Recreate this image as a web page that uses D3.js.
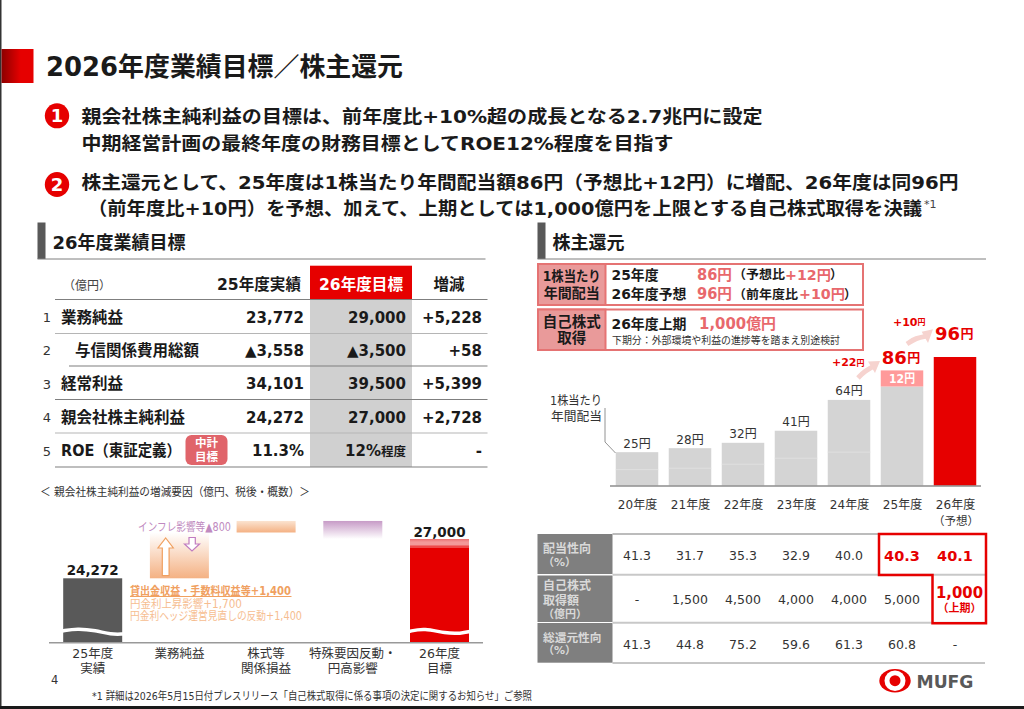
<!DOCTYPE html>
<html>
<head>
<meta charset="utf-8">
<script src="https://cdn.jsdelivr.net/npm/d3@7"></script>
<style>
html, body { margin: 0; padding: 0; background: #fff; }
svg { display: block; }
text { font-family: "DejaVu Sans", "Noto Sans CJK JP", sans-serif; }
</style>
</head>
<body>
<svg id="chart" width="1024" height="709"></svg>
<script>
// dividend bars
const dpsYears = ['20年度', '21年度', '22年度', '23年度', '24年度', '25年度', '26年度']
const dpsValues = [25, 28, 32, 41, 64, 74, 96]
const dpsLower = [12, 13, 16, 20.5, 25, 0, 0]
const dpsExtra = [0, 0, 0, 0, 0, 12, 0]

// shareholder return table
const payoutRatio = ['41.3', '31.7', '35.3', '32.9', '40.0', '40.3', '40.1']
const buybackAmount = ['-', '1,500', '4,500', '4,000', '4,000', '5,000', '1,000']
const totalPayout = ['41.3', '44.8', '75.2', '59.6', '61.3', '60.8', '-']

// targets table
const targetRows = ['業務純益', '与信関係費用総額', '経常利益', '親会社株主純利益', 'ROE（東証定義）']
const actual25 = ['23,772', '▲3,558', '34,101', '24,272', '11.3%']
const target26 = ['29,000', '▲3,500', '39,500', '27,000', '12%']
const targetDiff = ['+5,228', '+58', '+5,399', '+2,728', '-']

// net profit waterfall
const bridgeStart = 24272
const bridgeEnd = 27000
const bridgeDeltas = [3180, 800, -1252]
const bridgeLabels = [['25年度', '実績'], ['業務純益'], ['株式等', '関係損益'], ['特殊要因反動・', '円高影響'], ['26年度', '目標']]

const RED = '#e60000'
const svg = d3.select('#chart')
const defs = svg.append('defs')

function gradient (id, stops, horizontal) {
  const g = defs.append('linearGradient').attr('id', id)
    .attr('x1', 0).attr('y1', 0)
    .attr('x2', horizontal ? 1 : 0).attr('y2', horizontal ? 0 : 1)
  stops.forEach(s => g.append('stop').attr('offset', s[0]).attr('stop-color', s[1]))
}
gradient('headRed', [[0, '#8c0000'], [0.6, '#e60000'], [1, '#e60000']], true)
gradient('orangeUp', [[0, '#ffffff'], [1, '#f4b183']])
gradient('orangeThin', [[0, '#fbe3d0'], [1, '#f4b183']])
gradient('purpleDown', [[0, '#c79bc7'], [1, '#ffffff']])
gradient('redTop', [[0, '#ea7070'], [0.03, '#f39a9a'], [0.06, '#f39a9a'], [0.065, '#ee4a4a'], [0.09, '#ee4a4a'], [0.09, '#e60000'], [1, '#e60000']])

function label (x, y, str, opts) {
  const o = opts || {}
  const t = svg.append('text')
    .attr('x', x).attr('y', y)
    .attr('font-size', o.size || 13)
    .attr('font-weight', o.bold ? 700 : 400)
    .attr('fill', o.fill || '#1a1a1a')
    .attr('text-anchor', o.anchor || 'start')
    .attr('dominant-baseline', 'central')
    .text(str)
  if (o.width) t.attr('textLength', o.width).attr('lengthAdjust', 'spacingAndGlyphs')
  return t
}

function rect (x, y, w, h, fill) {
  return svg.append('rect').attr('x', x).attr('y', y).attr('width', w).attr('height', h).attr('fill', fill)
}

function hline (x1, x2, y, color, w) {
  svg.append('line').attr('x1', x1).attr('x2', x2).attr('y1', y).attr('y2', y)
    .attr('stroke', color).attr('stroke-width', w || 1)
}

// page frame
rect(0, 0, 1.5, 709, '#333')
rect(0, 706, 1024, 3, '#1a1a1a')

// title and lead text
rect(1.5, 49, 32, 34, 'url(#headRed)')
label(46, 67, '2026年度業績目標／株主還元', { size: 26, bold: true, width: 357 })

function badge (cx, cy, n) {
  svg.append('ellipse').attr('cx', cx).attr('cy', cy).attr('rx', 12.2).attr('ry', 12.5).attr('fill', RED)
  label(cx, cy, n, { size: 18, bold: true, fill: '#fff', anchor: 'middle' })
}
badge(57, 115.8, '1')
badge(57, 184.5, '2')
label(81.5, 116.5, '親会社株主純利益の目標は、前年度比+10%超の成長となる2.7兆円に設定', { size: 18.5, bold: true, width: 681 })
label(81.5, 143, '中期経営計画の最終年度の財務目標としてROE12%程度を目指す', { size: 18.5, bold: true, width: 592 })
label(81.5, 182, '株主還元として、25年度は1株当たり年間配当額86円（予想比+12円）に増配、26年度は同96円', { size: 18.5, bold: true, width: 877 })
label(88, 208, '（前年度比+10円）を予想、加えて、上期としては1,000億円を上限とする自己株式取得を決議', { size: 18.5, bold: true, width: 834 })
label(924, 204, '*1', { size: 11, fill: '#444' })

// section headers
function section (x, x2, str) {
  rect(x, 222.5, 8, 36.5, '#595959')
  hline(x, x2, 259, '#7f7f7f', 1)
  label(x + 15, 242, str, { size: 18, bold: true })
}
section(37.5, 485.5, '26年度業績目標')
section(537.5, 986, '株主還元')

// targets table
const rowY = d3.scalePoint().domain(d3.range(5)).range([317.5, 451])
rect(310, 299, 102, 168, '#d0d0d0')
rect(310, 265.7, 102, 33.6, RED)
label(63, 286, '（億円）', { size: 12, fill: '#444' })
label(301, 285, '25年度実績', { size: 15.5, bold: true, anchor: 'end', width: 84 })
label(361, 285, '26年度目標', { size: 15.5, bold: true, fill: '#fff', anchor: 'middle', width: 84 })
label(449, 285, '増減', { size: 15.5, bold: true, anchor: 'middle' })

hline(55, 487.5, 299.5, '#7f7f7f', 1.2)
hline(55, 487.5, 333.5, '#b5b5b5', 1.2)
hline(69, 487.5, 366, '#7f7f7f', 1.2)
hline(55, 487.5, 399.5, '#7f7f7f', 1.2)
hline(55, 487.5, 433, '#b5b5b5', 1.2)
hline(55, 487.5, 467, '#7f7f7f', 1.2)

targetRows.forEach((name, i) => {
  const y = rowY(i)
  label(47, y, String(i + 1), { size: 13, anchor: 'middle', fill: '#333' })
  label(i === 1 ? 75 : 61, y, name, { size: 15.5, bold: true, width: i === 4 ? 120 : null })
  label(304, y, actual25[i], { size: 15, bold: true, anchor: 'end' })
  if (i === 4) {
    const t = label(406, y, target26[i], { size: 15, bold: true, anchor: 'end' })
    t.append('tspan').attr('font-size', 12.5).text('程度')
  } else {
    label(406, y, target26[i], { size: 15, bold: true, anchor: 'end' })
  }
  label(482, y, targetDiff[i], { size: 15, bold: true, anchor: 'end' })
})
svg.append('rect').attr('x', 185.5).attr('y', 435).attr('width', 42).attr('height', 30).attr('rx', 6).attr('fill', '#e0646a')
label(206.5, 443, '中計', { size: 11.5, bold: true, fill: '#fff', anchor: 'middle' })
label(206.5, 457, '目標', { size: 11.5, bold: true, fill: '#fff', anchor: 'middle' })

// net profit bridge
label(40, 492, '＜ 親会社株主純利益の増減要因（億円、税後・概数）＞', { size: 11.5, fill: '#333', width: 270 })

const bridgeX = d3.scalePoint().domain(d3.range(5)).range([92.7, 439.5])
const bridgeY = d3.scaleLinear().domain([bridgeStart, bridgeEnd]).range([578.3, 539])
const bridgeBase = 642.7
const bridgeW = 59

rect(bridgeX(0) - bridgeW / 2, bridgeY(bridgeStart), bridgeW, bridgeBase - bridgeY(bridgeStart), '#595959')
rect(bridgeX(4) - bridgeW / 2, bridgeY(bridgeEnd), bridgeW, bridgeBase - bridgeY(bridgeEnd), 'url(#redTop)')

let level = bridgeStart
const bridgeFills = ['url(#orangeUp)', 'url(#orangeThin)', 'url(#purpleDown)']
bridgeDeltas.forEach((d, i) => {
  const next = level + d
  const top = bridgeY(Math.max(level, next))
  const bottom = bridgeY(Math.min(level, next))
  rect(bridgeX(i + 1) - bridgeW / 2, top, bridgeW, bottom - top, bridgeFills[i])
  level = next
})

// axis break on the two full bars
const wave = d3.line().curve(d3.curveBasis)
const wavePts = {
  0: [[-1, 631], [-0.5, 628.5], [0.1, 630.5], [0.6, 634.5], [1, 634]],
  4: [[-1, 631.5], [-0.5, 628], [0.2, 633.5], [0.7, 633.5], [1, 631.5]]
}
;[0, 4].forEach(i => {
  const c = bridgeX(i)
  const h = bridgeW / 2 + 1
  svg.append('path')
    .attr('d', wave(wavePts[i].map(p => [c + p[0] * h, p[1]])))
    .attr('fill', 'none').attr('stroke', '#fff').attr('stroke-width', 3.5)
})
hline(49, 483, bridgeBase, '#999', 1.5)

label(bridgeX(0), 570, '24,272', { size: 13.5, bold: true, anchor: 'middle' })
label(bridgeX(4), 531.5, '27,000', { size: 13.5, bold: true, anchor: 'middle' })
bridgeLabels.forEach((lines, i) => {
  lines.forEach((s, j) => label(bridgeX(i), 653.5 + j * 14.5, s, { size: 12.5, anchor: 'middle', fill: '#333' }))
})

// up and down arrows in the bridge
const arrowLine = d3.line()
svg.append('path')
  .attr('d', arrowLine([[165.7, 538], [173.3, 548], [169.1, 548], [169.1, 575.7], [162.3, 575.7], [162.3, 548], [158, 548]]) + 'Z')
  .attr('fill', '#fff').attr('stroke', '#f0a060').attr('stroke-width', 1.2)
svg.append('path')
  .attr('d', arrowLine([[189, 537.5], [195.3, 537.5], [195.3, 544], [199.5, 544], [192, 551], [184.5, 544], [189, 544]]) + 'Z')
  .attr('fill', '#fff').attr('stroke', '#c07cc0').attr('stroke-width', 1.2)
label(138, 527, 'インフレ影響等▲800', { size: 11.5, fill: '#c08ac0', width: 93 })
label(130, 590.5, '貸出金収益・手数料収益等+1,400', { size: 11.5, bold: true, fill: '#f0a060', width: 161 })
hline(130, 291.5, 596.5, '#f0a060', 1)
label(130, 603.5, '円金利上昇影響+1,700', { size: 11.5, fill: '#f6bd90', width: 112 })
label(130, 616, '円金利ヘッジ運営見直しの反動+1,400', { size: 11.5, fill: '#f6bd90', width: 172 })

// page number and footnote
label(51, 680, '4', { size: 11.5, fill: '#333' })
label(92, 696.5, '*1  詳細は2026年5月15日付プレスリリース「自己株式取得に係る事項の決定に関するお知らせ」ご参照', { size: 11, fill: '#333', width: 440 })

// return summary boxes
function summaryBox (y, h, line1, line2, size, w) {
  rect(538, y, 325, h, '#fff').attr('stroke', '#e57373').attr('stroke-width', 2)
  rect(538, y, 67.5, h, '#e99a9a').attr('stroke', '#e57373').attr('stroke-width', 2)
  label(571.7, y + h / 2 - 8.2, line1, { size: size, bold: true, anchor: 'middle', width: w })
  label(571.7, y + h / 2 + 8.2, line2, { size: size, bold: true, anchor: 'middle' })
}
const PINK = '#e8686c'
summaryBox(264, 41, '1株当たり', '年間配当', 14, 58)
summaryBox(309.5, 40.5, '自己株式', '取得', 14.5, 58)
label(611.5, 274.5, '25年度', { size: 14, bold: true, width: 47 })
label(697, 274.5, '86円', { size: 15, bold: true, fill: PINK, width: 35 })
label(733, 274.5, '（予想比', { size: 12.5, bold: true, width: 52 })
label(785, 274.5, '+12円', { size: 14, bold: true, fill: PINK, width: 46 })
label(830, 274.5, '）', { size: 12.5, bold: true })
label(611.5, 294, '26年度予想', { size: 14, bold: true, width: 75 })
label(697, 294, '96円', { size: 15, bold: true, fill: PINK, width: 35 })
label(733, 294, '（前年度比', { size: 12.5, bold: true, width: 65 })
label(799, 294, '+10円', { size: 14, bold: true, fill: PINK, width: 46 })
label(844, 294, '）', { size: 12.5, bold: true })
label(611.5, 324, '26年度上期', { size: 14, bold: true, width: 75 })
label(699, 324, '1,000億円', { size: 15, bold: true, fill: PINK, width: 77 })
label(612, 339.5, '下期分：外部環境や利益の進捗等を踏まえ別途検討', { size: 10.5, fill: '#333', width: 228 })

// dividend chart
const x = d3.scalePoint().domain(dpsYears).range([637, 955]).padding(0)
const y = d3.scaleLinear().domain([0, 96]).range([485.7, 357])
const barW = 42.5
const bars = svg.append('g')
const barGroups = bars.selectAll('g').data(dpsYears).enter().append('g')
barGroups.append('rect')
  .attr('x', d => x(d) - barW / 2)
  .attr('y', (d, i) => y(dpsValues[i]))
  .attr('width', barW)
  .attr('height', (d, i) => y(0) - y(dpsValues[i]))
  .attr('fill', (d, i) => i === 6 ? RED : '#d4d4d4')
barGroups.filter((d, i) => dpsLower[i] > 0).append('line')
  .attr('x1', d => x(d) - barW / 2).attr('x2', d => x(d) + barW / 2)
  .attr('y1', d => y(dpsLower[dpsYears.indexOf(d)]))
  .attr('y2', d => y(dpsLower[dpsYears.indexOf(d)]))
  .attr('stroke', '#e2e2e2').attr('stroke-width', 0.8)
barGroups.filter((d, i) => dpsExtra[i] > 0).append('rect')
  .attr('x', d => x(d) - barW / 2)
  .attr('y', d => y(dpsValues[dpsYears.indexOf(d)] + dpsExtra[dpsYears.indexOf(d)]))
  .attr('width', barW)
  .attr('height', d => y(dpsValues[dpsYears.indexOf(d)]) - y(dpsValues[dpsYears.indexOf(d)] + dpsExtra[dpsYears.indexOf(d)]))
  .attr('fill', '#ff9a9a')

hline(610, 981, 486, '#8c8c8c', 1.5)

const xAxis = d3.axisBottom(x).tickSize(0).tickPadding(0)
const xAxisG = svg.append('g').attr('transform', 'translate(0, 500.5)').call(xAxis)
xAxisG.select('.domain').remove()
xAxisG.selectAll('text').attr('font-size', 12).attr('fill', '#333')
  .attr('font-family', '"DejaVu Sans", "Noto Sans CJK JP", sans-serif')
label(956, 521, '（予想）', { size: 11.5, anchor: 'middle', fill: '#333' })

dpsValues.slice(0, 5).forEach((v, i) => {
  label(x(dpsYears[i]), y(v) - 8.5, v + '円', { size: 12, anchor: 'middle', fill: '#333' })
})
function yenBig (xStart, cy, n) {
  label(xStart, cy, n, { size: 18, bold: true, fill: RED })
  label(xStart + 25.5, cy + 0.5, '円', { size: 13, bold: true, fill: RED })
}
yenBig(881.7, 357, '86')
yenBig(935, 333, '96')
label(902, 379, '12円', { size: 12, bold: true, fill: '#fff', anchor: 'middle', width: 26 })
function plusYen (xEnd, cy, n, size) {
  const t = label(xEnd, cy, n, { size: size, bold: true, fill: RED, anchor: 'end' })
  t.append('tspan').attr('font-size', size - 3).text('円')
}
plusYen(864.5, 362.5, '+22', 11)
plusYen(925.5, 322, '+10', 11)

// growth arrows
const curve = d3.line().curve(d3.curveBasis)
function growArrow (pts, tip) {
  svg.append('path').attr('d', curve(pts)).attr('fill', 'none').attr('stroke', '#f6d3cf').attr('stroke-width', 5)
  svg.append('path').attr('d', arrowLine(tip) + 'Z').attr('fill', '#f6d3cf')
}
growArrow([[858, 378], [865, 371], [874, 366]], [[868, 361.5], [880, 361], [875, 373]])
growArrow([[907, 344], [916, 338], [927, 336]], [[921.7, 331.7], [933, 329.3], [928, 343]])

// callout for the dividend axis label
label(602, 400.5, '1株当たり', { size: 12.5, anchor: 'end', fill: '#333', width: 52 })
label(602, 416, '年間配当', { size: 12.5, anchor: 'end', fill: '#333', width: 51 })
svg.append('path')
  .attr('d', arrowLine([[605, 408], [605, 442], [615.5, 453]]))
  .attr('fill', 'none').attr('stroke', '#777').attr('stroke-width', 0.8)

// return table
const rowTops = [534, 575.5, 623]
const rowBottoms = [574, 622, 662.7]
rowTops.forEach((t, i) => rect(537.5, t, 75, rowBottoms[i] - t, '#7f7f7f'))
hline(612.5, 985, 534, '#a6a6a6', 1.5)
hline(612.5, 985, 574.8, '#c8c8c8', 2)
hline(612.5, 985, 622.8, '#c8c8c8', 2)
hline(612.5, 985, 663, '#8c8c8c', 1)

const headFill = '#d9d9d9'
label(543, 549, '配当性向', { size: 12, bold: true, fill: headFill })
label(543, 562, '（%）', { size: 11, bold: true, fill: headFill })
label(543, 586, '自己株式', { size: 12, bold: true, fill: headFill })
label(543, 600.5, '取得額', { size: 12, bold: true, fill: headFill })
label(543, 614, '（億円）', { size: 11, bold: true, fill: headFill })
label(543, 637.5, '総還元性向', { size: 11.7, bold: true, fill: headFill })
label(543, 650.5, '（%）', { size: 11, bold: true, fill: headFill })

dpsYears.forEach((d, i) => {
  const red = i >= 5
  label(x(d), 555.5, payoutRatio[i], { size: red ? 14.5 : 12.5, bold: red, fill: red ? RED : '#333', anchor: 'middle' })
  if (i < 6) label(x(d), 599, buybackAmount[i], { size: 12.5, fill: '#333', anchor: 'middle' })
  label(x(d), 644.5, totalPayout[i], { size: 12.5, fill: '#333', anchor: 'middle' })
})
label(959.5, 592.5, buybackAmount[6], { size: 15.5, bold: true, fill: RED, anchor: 'middle', width: 47 })
label(959.5, 608.5, '（上期）', { size: 11, bold: true, fill: RED, anchor: 'middle' })

svg.append('path')
  .attr('d', arrowLine([[879, 534], [986, 534], [986, 623.3], [932.5, 623.3], [932.5, 575], [879, 575]]) + 'Z')
  .attr('fill', 'none').attr('stroke', RED).attr('stroke-width', 2.5)

// logo
svg.append('ellipse').attr('cx', 895).attr('cy', 680.7).attr('rx', 15.7).attr('ry', 11.7).attr('fill', RED)
svg.append('ellipse').attr('cx', 895).attr('cy', 680.7).attr('rx', 10.5).attr('ry', 10.3).attr('fill', '#fff')
svg.append('circle').attr('cx', 895).attr('cy', 680.7).attr('r', 5.5).attr('fill', RED)
label(916.5, 681.5, 'MUFG', { size: 17, bold: true, fill: '#595959', width: 57 })
</script>
</body>
</html>
